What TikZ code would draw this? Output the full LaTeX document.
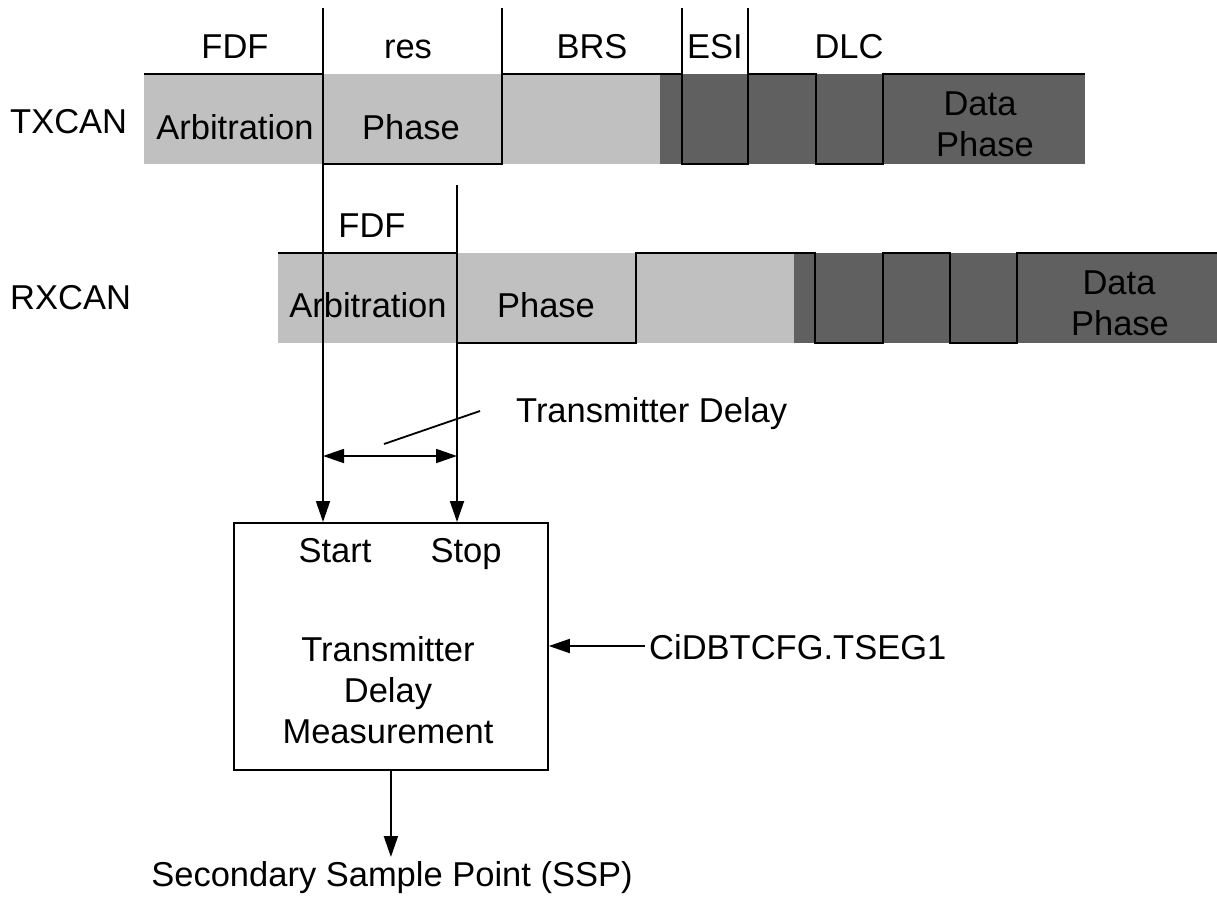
\documentclass[tikz,border=0pt]{standalone}
\usepackage{fontspec}
\setmainfont{Liberation Sans}
\usetikzlibrary{arrows.meta}
\definecolor{lightband}{RGB}{192,192,192}
\definecolor{darkband}{RGB}{96,96,96}
\begin{document}
\begin{tikzpicture}[x=1pt,y=-1pt,
  lbl/.style={font=\fontsize{34.5}{41.5}\selectfont, inner sep=0pt, anchor=base},
  lblw/.style={lbl, anchor=base west},
  wave/.style={line width=2pt, line join=miter},
  tick/.style={line width=1.8pt},
  arr/.style={line width=1.8pt, -{Triangle[length=21pt,width=14pt]}},
  darr/.style={line width=1.8pt, {Triangle[length=21pt,width=14pt]}-{Triangle[length=21pt,width=14pt]}}]
\useasboundingbox (0,0) rectangle (1217,897);
% TX band
\fill[lightband] (144,74) rectangle (660,164);
\fill[darkband] (660,74) rectangle (1085,164);
\draw[wave] (144,74) -| (323,164) -| (502,74) -| (682,164) -| (748,74) -| (816,164) -| (883,74) -- (1085,74);
% RX band
\fill[lightband] (278,253) rectangle (794,343);
\fill[darkband] (794,253) rectangle (1217,343);
\draw[wave] (278,253) -| (457,343) -| (636,253) -| (815,343) -| (883,253) -| (950,343) -| (1017,253) -- (1217,253);
% box
\node[draw, line width=1.8pt, minimum width=314pt, minimum height=247pt, anchor=north west, inner sep=0pt] (tdm) at (233,522) {};
% marker coordinates
\coordinate (startTop) at (323,8);
\coordinate (stopTop) at (457,185);
\coordinate (brsTop) at (502,8);
\coordinate (brsBot) at (502,164);
\coordinate (esiLTop) at (682,8);
\coordinate (esiLBot) at (682,164);
\coordinate (esiRTop) at (748,8);
\coordinate (esiRBot) at (748,164);
\coordinate (dA) at (323,456);
\coordinate (dB) at (457,456);
\coordinate (slA) at (384,444);
\coordinate (slB) at (480,411);
\coordinate (tsegStart) at (645,646);
\coordinate (sspTip) at (390,857);
\draw[tick] (brsTop) -- (brsBot);
\draw[tick] (esiLTop) -- (esiLBot);
\draw[tick] (esiRTop) -- (esiRBot);
\draw[arr] (startTop) -- (startTop |- tdm.north);
\draw[arr] (stopTop) -- (stopTop |- tdm.north);
\draw[darr] (dA) -- (dB);
\draw[tick] (slA) -- (slB);
\draw[arr] (tsegStart) -- (tdm.east |- tsegStart);
\draw[arr] (tdm.south) -- (tdm.south |- sspTip);
% TX labels
\node[lblw] (txcan) at (10,133) {TXCAN};
\node[lbl] (tfdf) at (235,58) {FDF};
\node[lbl] (tres) at (408,58) {res};
\node[lbl] (tbrs) at (592,58) {BRS};
\node[lbl] (tesi) at (715,58) {ESI};
\node[lbl] (tdlc) at (849,58) {DLC};
\node[lbl] (tarb) at (235,139) {Arbitration};
\node[lbl] (tph) at (411,139) {Phase};
\node[lbl] (tdata) at (980,115) {Data};
\node[lbl] (tdph) at (985,156) {Phase};
% RX labels
\node[lblw] (rxcan) at (10,309) {RXCAN};
\node[lbl] (rfdf) at (372,237) {FDF};
\node[lbl] (rarb) at (368,317) {Arbitration};
\node[lbl] (rph) at (546,317) {Phase};
\node[lbl] (rdata) at (1119,294) {Data};
\node[lbl] (rdph) at (1120,335) {Phase};
% delay
\node[lblw] (tdl) at (516,422) {Transmitter Delay};
% box texts
\node[lbl] (st) at (335,562) {Start};
\node[lbl] (sp) at (466,562) {Stop};
\node[lbl] (b1) at (388,661) {Transmitter};
\node[lbl] (b2) at (388,702) {Delay};
\node[lbl] (b3) at (388,743) {Measurement};
\node[lblw] (tseg) at (649,659) {CiDBTCFG.TSEG1};
\node[lbl] (ssp) at (392,886) {Secondary Sample Point (SSP)};
\end{tikzpicture}
\end{document}
